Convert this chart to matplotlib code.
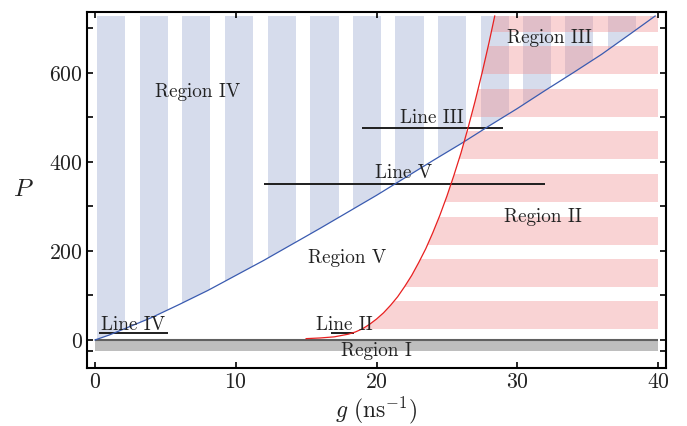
import matplotlib
matplotlib.use('Agg')
import matplotlib.pyplot as plt
from matplotlib.patches import Polygon
from matplotlib.ticker import FixedLocator

plt.rcParams['font.family'] = 'serif'
plt.rcParams['font.serif'] = ['cmr10']
plt.rcParams['mathtext.fontset'] = 'cm'
plt.rcParams['axes.formatter.use_mathtext'] = True

# ---- data ----
blue_g = [0, 1, 2, 3, 4, 6, 8, 10, 12, 14, 16, 18, 20, 22, 24, 26, 28, 30, 32, 34, 36, 38, 39.8]
blue_P = [0, 11, 24, 37, 50, 80, 111, 145, 179, 215, 251, 288, 325, 364, 403, 441, 481, 520, 561, 601, 642, 687, 728]

red_g = [15, 16, 17, 18, 18.5, 19, 19.5, 20, 20.5, 21, 21.5, 22, 22.5, 23, 23.5, 24, 24.5,
         25, 25.5, 26, 26.5, 27, 27.5, 28, 28.4]
red_P = [3, 4.5, 7, 13, 18, 25, 35, 47, 61, 78, 97, 120, 145, 174, 205, 241, 280,
         323, 370, 420, 476, 536, 600, 669, 728]

# vertical stripes (Region IV / III), left edges in g
blue_stripe_left = [0.15, 3.2, 6.2, 9.25, 12.3, 15.3, 18.35, 21.35, 24.35, 27.4, 30.4, 33.4, 36.45, 39.45]
blue_stripe_width = 2.0
# horizontal stripes (Region II / III), bottom edges in P
pink_stripe_bottom = [25, 119, 214, 310, 406, 501, 597, 693]
pink_stripe_height = 63
region_top = 728
g_max = 40

region_I = (-24, 0)

lines = {
    'Line IV': (15, 0.3, 5.2),
    'Line II': (15, 16.8, 18.4),
    'Line V': (351, 12.0, 32.0),
    'Line III': (477, 19.0, 29.0),
}

labels = [
    ('Region IV', 7.3, 547),
    ('Region III', 32.3, 667),
    ('Line III', 23.95, 488),
    ('Line V', 21.95, 364),
    ('Region II', 31.8, 265),
    ('Region V', 17.9, 173),
    ('Line IV', 2.7, 22),
    ('Line II', 17.7, 22),
    ('Region I', 20.0, -36),
]

x_ticks = [0, 10, 20, 30, 40]
y_ticks = [0, 200, 400, 600]
y_minor = [-25, 100, 300, 500, 700]

# ---- figure ----
fig = plt.figure(figsize=(6.87, 4.26), dpi=100)
ax = fig.add_axes([87/687, 1-368/426, (666-87)/687, (368-12)/426])

blue_fill = '#d6dcec'
pink_fill = (0.94, 0.57, 0.58)

# blue region polygon (above blue curve)
poly_blue = Polygon(list(zip(blue_g, blue_P)) + [(g_max, region_top), (0, region_top)],
                    closed=True, transform=ax.transData, facecolor='none', edgecolor='none')
ax.add_patch(poly_blue)
bars = ax.bar(blue_stripe_left, region_top, width=blue_stripe_width, bottom=0, align='edge',
              color=blue_fill, linewidth=0, zorder=1)
for b in bars:
    b.set_clip_path(poly_blue)

# red region polygon (right of red curve)
poly_red = Polygon(list(zip(red_g, red_P)) + [(g_max, region_top), (g_max, 0), (red_g[0], 0)],
                   closed=True, transform=ax.transData, facecolor='none', edgecolor='none')
ax.add_patch(poly_red)
bars2 = ax.barh(pink_stripe_bottom, g_max, height=pink_stripe_height, left=0, align='edge',
                color=pink_fill, alpha=0.4, linewidth=0, zorder=1.5)
for b in bars2:
    b.set_clip_path(poly_red)

# Region I band
ax.fill_between([0, g_max], region_I[0], region_I[1], color='#bebebe', linewidth=0, zorder=2)
ax.plot([0, g_max], [0, 0], color='#606060', lw=1.5, zorder=2.5, solid_capstyle='butt')

for name, (P, g0, g1) in lines.items():
    ax.plot([g0, g1], [P, P], color='#1e1e1e', lw=1.4, zorder=3, solid_capstyle='butt')

ax.plot(blue_g, blue_P, color='#3a5bb0', lw=0.9, zorder=4)
ax.plot(red_g, red_P, color='#e82020', lw=0.9, zorder=4)

for s, g, P in labels:
    ax.text(g, P, s, ha='center', va='baseline', fontsize=13.8, color='#222222', zorder=5)

ax.set_xlim(-0.57, 40.57)
ax.set_ylim(-63, 737)
ax.set_xticks(x_ticks)
ax.set_yticks(y_ticks)
ax.yaxis.set_minor_locator(FixedLocator(y_minor))
ax.tick_params(which='both', direction='in', top=True, right=True, length=4.5, width=1.2,
               labelsize=15.7, pad=3, colors='#000000', labelcolor='#222222')
for sp in ax.spines.values():
    sp.set_linewidth(1.5)

ax.set_xlabel(r'$g\ (\mathrm{ns}^{-1})$', fontsize=17, labelpad=2, color='#222222')
ax.set_ylabel(r'$P$', fontsize=18, rotation=0, color='#222222', ha='center', va='center')
ax.yaxis.set_label_coords(-0.11, 0.5)

fig.savefig('out.png', dpi=100)
